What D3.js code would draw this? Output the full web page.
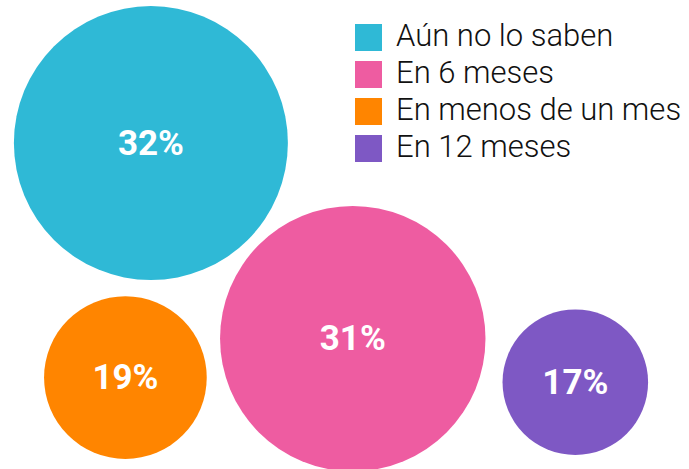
<!DOCTYPE html>
<html>
<head>
<meta charset="utf-8">
<script src="https://cdn.jsdelivr.net/npm/d3@7"></script>
<style>
  html, body { margin: 0; padding: 0; background: #fff; }
  svg { display: block; font-family: Roboto, "Noto Sans", sans-serif; }
</style>
</head>
<body>
<div id="chart"></div>
<script>
// data
var categories = ['Aún no lo saben', 'En 6 meses', 'En menos de un mes', 'En 12 meses'];
var values = [32, 31, 19, 17];
var colors = ['#2fb9d6', '#ee5ca1', '#ff8500', '#7e58c4'];

// bubble placement (relative 0..1 of the drawing area)
var posX = [0.219, 0.512, 0.182, 0.835];
var posY = [0.305, 0.722, 0.805, 0.815];

var width = 689, height = 469;

var svg = d3.select('#chart').append('svg')
  .attr('width', width)
  .attr('height', height);

var x = d3.scaleLinear().domain([0, 1]).range([0, width]);
var y = d3.scaleLinear().domain([0, 1]).range([0, height]);
// radius grows linearly with the percentage
var r = d3.scaleLinear().domain([0, 32]).range([0, 137]);

var nodes = categories.map(function (c, i) {
  return { name: c, value: values[i], color: colors[i], px: posX[i], py: posY[i] };
});

var bubble = svg.append('g')
  .selectAll('g')
  .data(nodes)
  .enter().append('g')
  .attr('transform', function (d) { return 'translate(' + x(d.px) + ',' + y(d.py) + ')'; });

bubble.append('circle')
  .attr('r', function (d) { return r(d.value); })
  .attr('fill', function (d) { return d.color; });

bubble.append('text')
  .attr('text-anchor', 'middle')
  .attr('dy', '0.33em')
  .attr('fill', '#fff')
  .attr('font-size', '35px')
  .attr('font-weight', 'bold')
  .text(function (d) { return d.value + '%'; });

// legend
var legend = svg.append('g')
  .attr('transform', 'translate(355,24)');

var row = legend.selectAll('g')
  .data(nodes)
  .enter().append('g')
  .attr('transform', function (d, i) { return 'translate(0,' + (i * 37) + ')'; });

row.append('rect')
  .attr('width', 27)
  .attr('height', 27)
  .attr('fill', function (d) { return d.color; });

row.append('text')
  .attr('x', 41)
  .attr('y', 22)
  .attr('font-size', '31px')
  .attr('font-weight', 300)
  .attr('fill', '#111')
  .text(function (d) { return d.name; });
</script>
</body>
</html>
